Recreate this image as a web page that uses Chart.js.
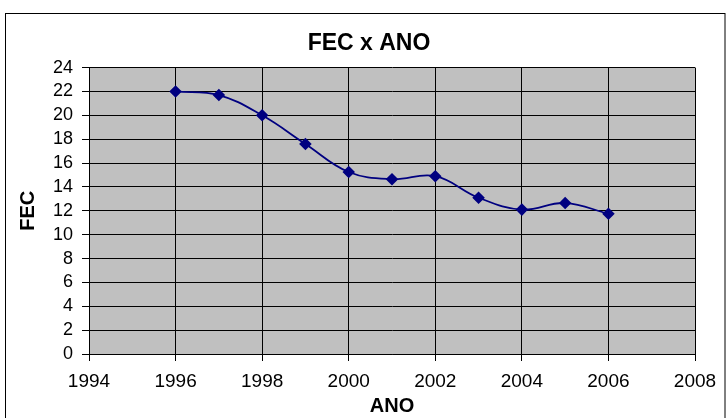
<!DOCTYPE html>
<html>
<head>
<meta charset="utf-8">
<script src="https://cdn.jsdelivr.net/npm/chart.js@4"></script>
<style>
  html, body { margin: 0; padding: 0; background: #fff; }
  #wrap { width: 726px; height: 418px; position: relative; }
</style>
</head>
<body>
<div id="wrap"><canvas id="myChart" width="726" height="418"></canvas></div>
<script>
// dados
const anos = [1996, 1997, 1998, 1999, 2000, 2001, 2002, 2003, 2004, 2005, 2006];
const fec = [22.0, 21.7, 20.0, 17.6, 15.25, 14.65, 14.9, 13.1, 12.1, 12.65, 11.75];
const tituloGrafico = 'FEC x ANO';
const tituloX = 'ANO';
const tituloY = 'FEC';

const pontos = anos.map((a, i) => ({ x: a, y: fec[i] }));

// fundo cinza da area do grafico + moldura externa
const fundoPlugin = {
    id: 'fundo',
    beforeDraw(chart) {
        const c = chart.ctx;
        const a = chart.chartArea;
        c.save();
        c.fillStyle = '#c0c0c0';
        c.fillRect(a.left, a.top, a.right - a.left, a.bottom - a.top);
        c.strokeStyle = '#000';
        c.lineWidth = 1;
        c.strokeRect(5.5, 13.5, 719.5, 420);
        c.restore();
    }
};

const fonte = "'Liberation Sans', Arial, sans-serif";

const ctx = document.getElementById('myChart').getContext('2d');
new Chart(ctx, {
    type: 'scatter',
    data: {
        datasets: [{
            label: tituloY,
            data: pontos,
            showLine: true,
            tension: 0.4,
            borderColor: '#000080',
            borderWidth: 1.8,
            backgroundColor: '#000080',
            pointStyle: 'rectRot',
            pointRadius: 5,
            pointHoverRadius: 5
        }]
    },
    options: {
        responsive: false,
        animation: false,
        // padding esquerdo maior para centralizar o titulo como no original
        layout: { padding: { left: 43, right: 31, top: 0, bottom: 0 } },
        plugins: {
            legend: { display: false },
            tooltip: { enabled: false },
            title: {
                display: true,
                text: tituloGrafico,
                color: '#000',
                font: { family: fonte, size: 23, weight: 'bold' },
                padding: { top: 30, bottom: 10 }
            }
        },
        scales: {
            x: {
                type: 'linear',
                min: 1994,
                max: 2008,
                ticks: {
                    stepSize: 2,
                    color: '#000',
                    font: { family: fonte, size: 19 },
                    padding: 9,
                    maxRotation: 0,
                    autoSkip: false,
                    callback: v => String(v)
                },
                grid: { color: '#000', lineWidth: 1, tickLength: 7, tickColor: '#000' },
                border: { color: '#000' },
                title: {
                    display: true,
                    text: tituloX,
                    color: '#000',
                    font: { family: fonte, size: 20, weight: 'bold' },
                    padding: { top: 0, bottom: 0 }
                },
                afterFit(scale) { scale.height = 64; }
            },
            y: {
                min: 0,
                max: 24,
                ticks: {
                    stepSize: 2,
                    color: '#000',
                    font: { family: fonte, size: 18, lineHeight: 1 },
                    padding: 9,
                    autoSkip: false
                },
                grid: { color: '#000', lineWidth: 1, tickLength: 7, tickColor: '#000' },
                border: { color: '#000' },
                title: {
                    display: true,
                    text: tituloY,
                    color: '#000',
                    font: { family: fonte, size: 20, weight: 'bold' },
                    padding: { top: -27, bottom: 0 }
                },
                afterFit(scale) { scale.width = 46; }
            }
        }
    },
    plugins: [fundoPlugin]
});
</script>
</body>
</html>
